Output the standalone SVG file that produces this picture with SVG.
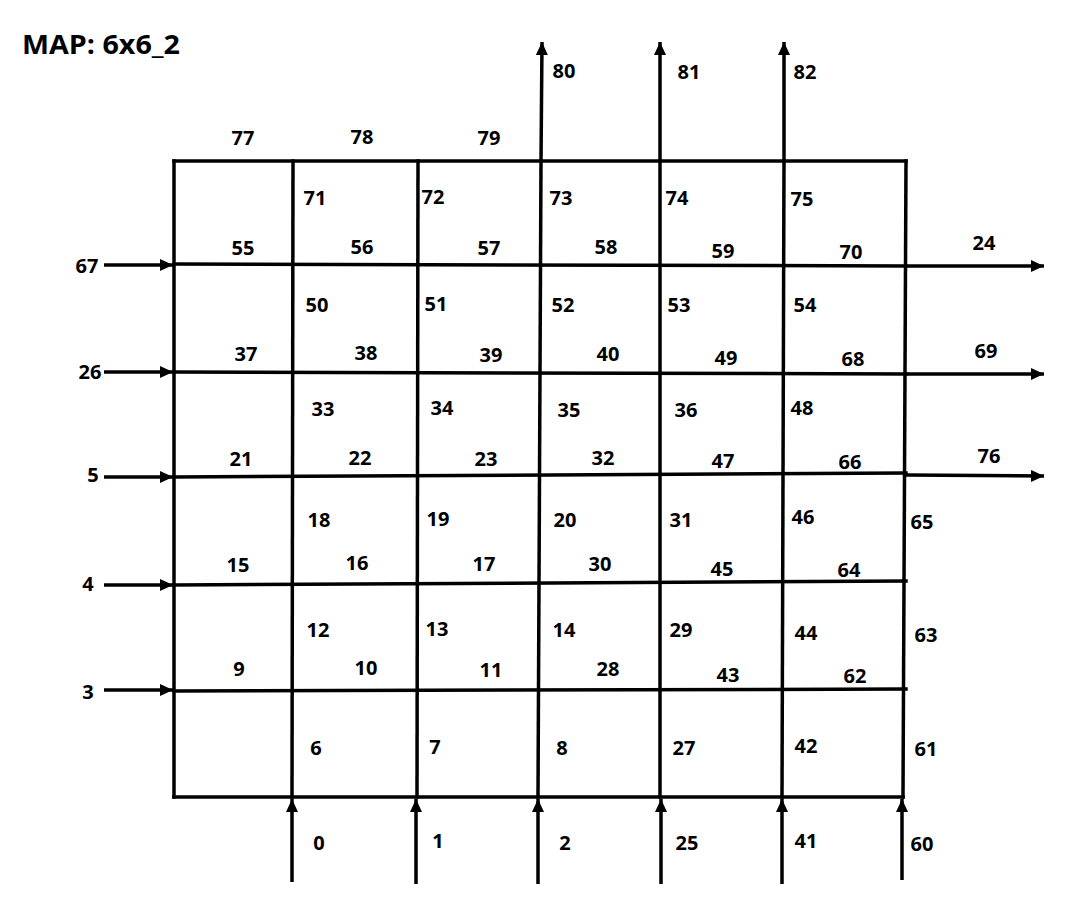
<svg xmlns="http://www.w3.org/2000/svg" width="1074" height="898" viewBox="0 0 1074 898">
<defs>
<marker id="ah" markerUnits="userSpaceOnUse" markerWidth="14" markerHeight="12" refX="13" refY="6" orient="auto"><path d="M0,0 L13,6 L0,12 Z" fill="#000"/></marker>
<style>
.g{stroke:#000;stroke-width:3.5;fill:none;stroke-linecap:square}
.a{stroke:#000;stroke-width:3.5;fill:none;marker-end:url(#ah)}
text{font-family:"Open Sans","Liberation Sans",Arial,sans-serif;font-weight:700;font-size:20px;fill:#000;text-anchor:middle}
.t{font-size:27px;text-anchor:start}
</style>
</defs>
<rect width="1074" height="898" fill="#fff"/>
<g id="connectors">
<line class="g" x1="174" y1="161" x2="906" y2="161"/>
<line class="g" x1="174" y1="264" x2="906" y2="266"/>
<line class="g" x1="174" y1="372" x2="906" y2="374"/>
<line class="g" x1="174" y1="477" x2="906" y2="473"/>
<line class="g" x1="174" y1="585" x2="906" y2="581"/>
<line class="g" x1="174" y1="691" x2="906" y2="689"/>
<line class="g" x1="174" y1="797" x2="903" y2="797"/>
<line class="g" x1="174" y1="161" x2="174" y2="797"/>
<line class="g" x1="293" y1="161" x2="292" y2="797"/>
<line class="g" x1="418" y1="161" x2="417" y2="797"/>
<line class="g" x1="541" y1="161" x2="538" y2="797"/>
<line class="g" x1="660" y1="161" x2="660" y2="797"/>
<line class="g" x1="784" y1="161" x2="782" y2="797"/>
<line class="g" x1="906" y1="161" x2="903" y2="797"/>
<line class="a" x1="104" y1="265" x2="173" y2="265"/>
<line class="a" x1="104" y1="372" x2="173" y2="372"/>
<line class="a" x1="104" y1="477" x2="173" y2="477"/>
<line class="a" x1="104" y1="585" x2="173" y2="585"/>
<line class="a" x1="104" y1="690" x2="173" y2="690"/>
<line class="a" x1="906" y1="266" x2="1044" y2="266"/>
<line class="a" x1="906" y1="374" x2="1044" y2="374"/>
<line class="a" x1="906" y1="475" x2="1044" y2="476"/>
<line class="a" x1="541" y1="161" x2="542" y2="42"/>
<line class="a" x1="660" y1="161" x2="660" y2="42"/>
<line class="a" x1="784" y1="161" x2="784" y2="42"/>
<line class="a" x1="292" y1="882" x2="292" y2="799"/>
<line class="a" x1="416" y1="884" x2="416" y2="799"/>
<line class="a" x1="538" y1="884" x2="538" y2="799"/>
<line class="a" x1="661" y1="884" x2="661" y2="799"/>
<line class="a" x1="782" y1="884" x2="782" y2="799"/>
<line class="a" x1="902" y1="880" x2="902" y2="799"/>
</g>
<g id="title"><text class="t" x="22" y="54" textLength="158" lengthAdjust="spacingAndGlyphs">MAP: 6x6_2</text></g>
<g id="n77"><text x="243" y="145">77</text></g>
<g id="n78"><text x="362" y="144">78</text></g>
<g id="n79"><text x="489" y="145">79</text></g>
<g id="n80"><text x="564" y="78">80</text></g>
<g id="n81"><text x="689" y="79">81</text></g>
<g id="n82"><text x="805" y="79">82</text></g>
<g id="n71"><text x="315" y="205">71</text></g>
<g id="n72"><text x="433" y="204">72</text></g>
<g id="n73"><text x="561" y="205">73</text></g>
<g id="n74"><text x="677" y="205">74</text></g>
<g id="n75"><text x="802" y="206">75</text></g>
<g id="n55"><text x="243" y="255">55</text></g>
<g id="n56"><text x="362" y="254">56</text></g>
<g id="n57"><text x="489" y="255">57</text></g>
<g id="n58"><text x="606" y="254">58</text></g>
<g id="n59"><text x="723" y="258">59</text></g>
<g id="n70"><text x="851" y="259">70</text></g>
<g id="n24"><text x="984" y="250">24</text></g>
<g id="n67"><text x="87" y="273">67</text></g>
<g id="n50"><text x="317" y="312">50</text></g>
<g id="n51"><text x="436" y="311">51</text></g>
<g id="n52"><text x="563" y="312">52</text></g>
<g id="n53"><text x="679" y="312">53</text></g>
<g id="n54"><text x="805" y="312">54</text></g>
<g id="n37"><text x="246" y="361">37</text></g>
<g id="n38"><text x="366" y="360">38</text></g>
<g id="n39"><text x="491" y="362">39</text></g>
<g id="n40"><text x="608" y="361">40</text></g>
<g id="n49"><text x="726" y="365">49</text></g>
<g id="n68"><text x="853" y="366">68</text></g>
<g id="n69"><text x="986" y="358">69</text></g>
<g id="n26"><text x="90" y="379">26</text></g>
<g id="n33"><text x="323" y="416">33</text></g>
<g id="n34"><text x="442" y="415">34</text></g>
<g id="n35"><text x="569" y="417">35</text></g>
<g id="n36"><text x="686" y="417">36</text></g>
<g id="n48"><text x="802" y="415">48</text></g>
<g id="n21"><text x="241" y="466">21</text></g>
<g id="n22"><text x="360" y="465">22</text></g>
<g id="n23"><text x="486" y="466">23</text></g>
<g id="n32"><text x="603" y="465">32</text></g>
<g id="n47"><text x="723" y="468">47</text></g>
<g id="n66"><text x="850" y="469">66</text></g>
<g id="n76"><text x="989" y="463">76</text></g>
<g id="n5"><text x="93" y="482">5</text></g>
<g id="n18"><text x="319" y="527">18</text></g>
<g id="n19"><text x="438" y="526">19</text></g>
<g id="n20"><text x="565" y="527">20</text></g>
<g id="n31"><text x="681" y="527">31</text></g>
<g id="n46"><text x="803" y="524">46</text></g>
<g id="n65"><text x="922" y="529">65</text></g>
<g id="n15"><text x="238" y="572">15</text></g>
<g id="n16"><text x="357" y="570">16</text></g>
<g id="n17"><text x="484" y="571">17</text></g>
<g id="n30"><text x="600" y="571">30</text></g>
<g id="n45"><text x="722" y="576">45</text></g>
<g id="n64"><text x="849" y="577">64</text></g>
<g id="n4"><text x="88" y="591">4</text></g>
<g id="n12"><text x="318" y="637">12</text></g>
<g id="n13"><text x="437" y="636">13</text></g>
<g id="n14"><text x="564" y="637">14</text></g>
<g id="n29"><text x="681" y="637">29</text></g>
<g id="n44"><text x="806" y="640">44</text></g>
<g id="n63"><text x="926" y="642">63</text></g>
<g id="n9"><text x="239" y="676">9</text></g>
<g id="n10"><text x="366" y="675">10</text></g>
<g id="n11"><text x="491" y="677">11</text></g>
<g id="n28"><text x="608" y="676">28</text></g>
<g id="n43"><text x="728" y="682">43</text></g>
<g id="n62"><text x="855" y="683">62</text></g>
<g id="n3"><text x="88" y="699">3</text></g>
<g id="n6"><text x="316" y="755">6</text></g>
<g id="n7"><text x="435" y="754">7</text></g>
<g id="n8"><text x="562" y="755">8</text></g>
<g id="n27"><text x="684" y="755">27</text></g>
<g id="n42"><text x="806" y="753">42</text></g>
<g id="n61"><text x="926" y="756">61</text></g>
<g id="n0"><text x="319" y="850">0</text></g>
<g id="n1"><text x="438" y="848">1</text></g>
<g id="n2"><text x="565" y="850">2</text></g>
<g id="n25"><text x="687" y="850">25</text></g>
<g id="n41"><text x="806" y="848">41</text></g>
<g id="n60"><text x="922" y="851">60</text></g>
</svg>
